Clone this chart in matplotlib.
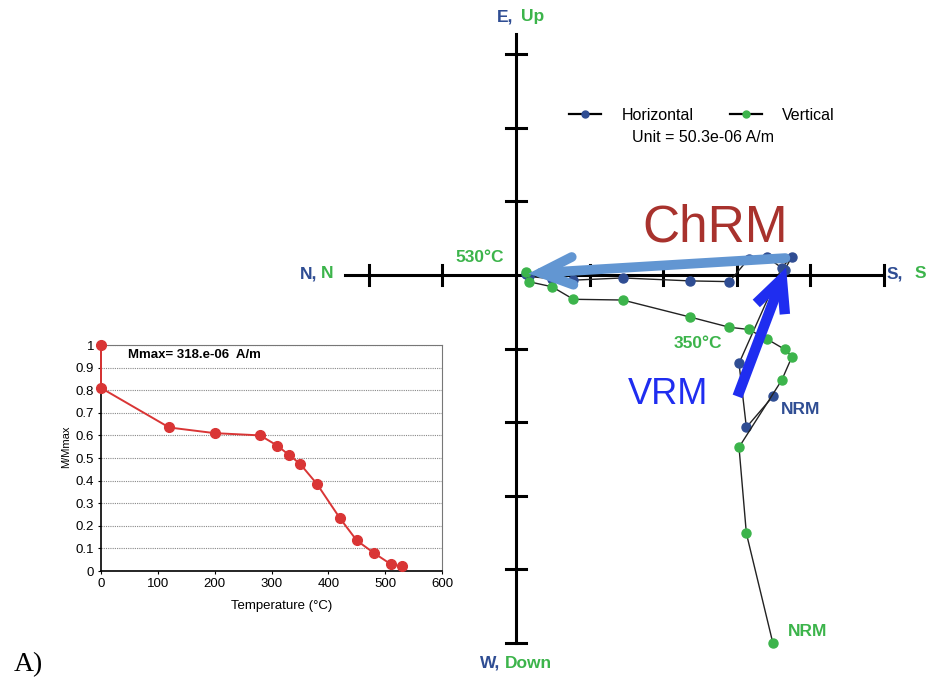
import matplotlib.pyplot as plt
from matplotlib.lines import Line2D

plt.rcParams['font.family'] = ['Liberation Sans', 'DejaVu Sans']

# Zijderveld components, in multiples of the plot unit (50.3e-06 A/m)
# x: N(-) / S(+); horizontal projection y: W(-) / E(+); vertical projection y: Down(-) / Up(+)
comp_s = [3.49, 3.13, 3.03, 3.61, 3.75, 3.65, 3.41, 3.16, 2.90, 2.36, 1.45, 0.78, 0.49, 0.17, 0.14]
comp_e = [-1.65, -2.07, -1.20, 0.10, 0.25, 0.07, 0.24, 0.22, -0.09, -0.08, -0.04, -0.07, -0.05, -0.02, 0.02]
comp_up = [-5.00, -3.51, -2.34, -1.43, -1.11, -1.01, -0.87, -0.74, -0.71, -0.57, -0.34, -0.33, -0.16, -0.09, 0.04]

# Demagnetisation curve
temps = [0, 0, 120, 200, 280, 310, 330, 350, 380, 420, 450, 480, 510, 530]
m_norm = [1.0, 0.81, 0.635, 0.61, 0.60, 0.555, 0.515, 0.475, 0.385, 0.235, 0.135, 0.08, 0.03, 0.02]

# fitted components (tail, tip)
chrm_vec = [(3.66, 0.23), (0.17, 0.02)]
vrm_vec = [(3.01, -1.65), (3.67, 0.10)]

BLUE = '#2f4d93'
GREEN = '#3cb44b'

W, H = 933, 685
PX = 73.6          # pixels per unit
OX, OY = 516, 275  # origin in pixels

fig = plt.figure(figsize=(W / 100, H / 100), dpi=100)
ax = fig.add_axes([0, 0, 1, 1])
ax.set_xlim(-OX / PX, (W - OX) / PX)
ax.set_ylim((OY - H) / PX, OY / PX)
ax.axis('off')

# axes with tick marks
ax.plot([-2.33, 5.0], [0, 0], color='black', lw=2.2, zorder=1)
ax.plot([0, 0], [-5.0, 3.27], color='black', lw=2.2, zorder=1)
tk = 0.13
for t in [-2, -1, 1, 2, 3, 4, 5]:
    ax.plot([t, t], [-tk, tk], color='black', lw=2.2, zorder=1)
for t in [-5, -4, -3, -2, -1, 1, 2, 3]:
    ax.plot([-tk, tk], [t, t], color='black', lw=2.2, zorder=1)

# projections
ax.plot(comp_s, comp_e, color='#222222', lw=1.0, marker='o', ms=6.5,
        mfc=BLUE, mec=BLUE, zorder=3)
ax.plot(comp_s, comp_up, color='#222222', lw=1.0, marker='o', ms=6.5,
        mfc=GREEN, mec=GREEN, zorder=3)

# component arrows
ax.annotate('', xy=chrm_vec[1], xytext=chrm_vec[0],
            arrowprops=dict(arrowstyle='->,head_length=2.3,head_width=1.0',
                            color='#6296d2', lw=7, shrinkA=0, shrinkB=0,
                            joinstyle='miter', capstyle='round'),
            zorder=4)
ax.annotate('', xy=vrm_vec[1], xytext=vrm_vec[0],
            arrowprops=dict(arrowstyle='->,head_length=2.3,head_width=1.1',
                            color='#1f2df0', lw=7.5, shrinkA=0, shrinkB=0,
                            joinstyle='miter', capstyle='butt'),
            zorder=4)


def ftext(x, y, s, **kw):
    fig.text(x / W, 1 - y / H, s, **kw)


ftext(715, 228, 'ChRM', color='#a8322d', fontsize=37, ha='center', va='center')
ftext(668, 394, 'VRM', color='#1f2df0', fontsize=26, ha='center', va='center')

bold = dict(fontsize=12.5, fontweight='bold', va='center')
ftext(513, 17, 'E,', color=BLUE, ha='right', **bold)
ftext(521, 17, 'Up', color=GREEN, ha='left', **bold)
ftext(317, 274, 'N,', color=BLUE, ha='right', **bold)
ftext(321, 274, 'N', color=GREEN, ha='left', **bold)
ftext(903, 274, 'S,', color=BLUE, ha='right', **bold)
ftext(915, 274, 'S', color=GREEN, ha='left', **bold)
ftext(500, 663, 'W,', color=BLUE, ha='right', **bold)
ftext(505, 663, 'Down', color=GREEN, ha='left', **bold)

lab = dict(ha='center', va='center', fontsize=12.5, fontweight='bold')
ftext(480, 258, '530°C', color=GREEN, **lab)
ftext(698, 343, '350°C', color=GREEN, **lab)
ftext(801, 409, 'NRM', color=BLUE, **lab)
ftext(808, 632, 'NRM', color=GREEN, **lab)

handles = [Line2D([], [], color='black', lw=1.6, marker='o', ms=5, mfc=BLUE, mec=BLUE),
           Line2D([], [], color='black', lw=1.6, marker='o', ms=5, mfc=GREEN, mec=GREEN)]
fig.legend(handles, ['Horizontal', 'Vertical'], ncol=2, frameon=False,
           loc='center', bbox_to_anchor=(702 / W, 1 - 115 / H), fontsize=11.5,
           handlelength=2.0, handletextpad=1.3, columnspacing=2.25)
ftext(703, 137, 'Unit = 50.3e-06 A/m', ha='center', va='center', fontsize=11.5)

ftext(14, 665, 'A)', family='Liberation Serif', fontsize=20, ha='left', va='center')

# inset: normalised intensity vs temperature
ins = fig.add_axes([101 / W, 1 - 571 / H, (442 - 101) / W, (571 - 345) / H])
ins.plot(temps, m_norm, color='#d93535', lw=1.4, marker='o', ms=7, clip_on=False, zorder=3)
ins.set_xlim(0, 600)
ins.set_ylim(0, 1)
ins.set_xticks(range(0, 601, 100))
ins.set_yticks([i / 10 for i in range(11)])
ins.set_yticklabels(['0'] + [f'{i / 10:g}' for i in range(1, 10)] + ['1'])
ins.grid(axis='y', linestyle=(0, (1, 1)), color='#888888', lw=0.8)
ins.tick_params(labelsize=9.5, length=2.5, width=0.8, pad=2.5)
for side in ['top', 'right']:
    ins.spines[side].set_color('#777777')
    ins.spines[side].set_linewidth(0.8)
for side in ['left', 'bottom']:
    ins.spines[side].set_linewidth(1.2)
ins.set_xlabel('Temperature (°C)', fontsize=9.5)
ins.xaxis.set_label_coords(0.53, -0.128)
ins.set_ylabel('M/Mmax', fontsize=8)
ins.yaxis.set_label_coords(-0.088, 0.55)
ins.text(0.08, 0.955, 'Mmax= 318.e-06  A/m', transform=ins.transAxes,
         fontsize=9.5, fontweight='bold', va='center')

fig.savefig('out.png', dpi=100)
